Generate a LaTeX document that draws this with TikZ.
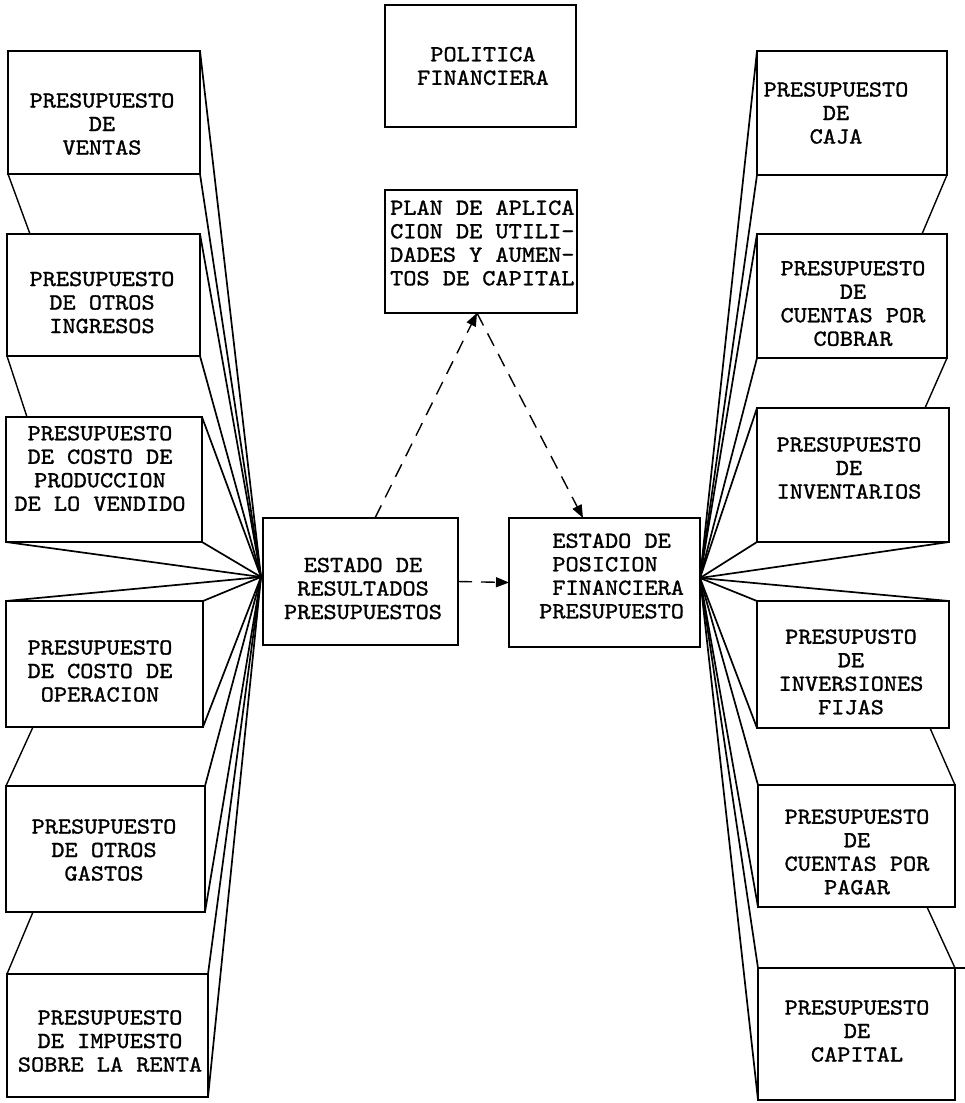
\documentclass[tikz,border=0pt]{standalone}
\usepackage{fontspec}
\newfontfamily\twfont{lmmono10-regular.otf}[FakeStretch=1.09,FakeBold=1.2]
\usetikzlibrary{calc,arrows.meta}
\begin{document}
\begin{tikzpicture}[x=1pt,y=-1pt,
  box/.style={draw, line width=1.4pt, inner sep=0pt, outer sep=0pt},
  txt/.style={font=\twfont\fontsize{23}{23.5}\selectfont, align=center, inner sep=0pt},
  persp/.style={line width=1.7pt},
  link/.style={line width=1.4pt},
  dasharrow/.style={line width=1.4pt, dash pattern=on 14pt off 9pt, -{Triangle[length=13pt,width=10pt]}}]
\useasboundingbox (0,0) rectangle (965,1103);

% ---------- left column ----------
\node[box, minimum width=192pt, minimum height=123pt] (L1) at (104,112.5) {};
\node[txt] (tL1) at (102,124) {PRESUPUESTO\\DE\\VENTAS};
\node[box, minimum width=193pt, minimum height=122pt] (L2) at (103.5,295) {};
\node[txt] (tL2) at (102,302.5) {PRESUPUESTO\\DE OTROS\\INGRESOS};
\node[box, minimum width=196pt, minimum height=125pt] (L3) at (104,479.5) {};
\node[txt] (tL3) at (100,468.5) {PRESUPUESTO\\DE COSTO DE\\PRODUCCION\\DE LO VENDIDO};
\node[box, minimum width=197pt, minimum height=126pt] (L4) at (104.5,664) {};
\node[txt] (tL4) at (100,671) {PRESUPUESTO\\DE COSTO DE\\OPERACION};
\node[box, minimum width=199pt, minimum height=126pt] (L5) at (105.5,849) {};
\node[txt] (tL5) at (104,850) {PRESUPUESTO\\DE OTROS\\GASTOS};
\node[box, minimum width=201pt, minimum height=123pt] (L6) at (107.5,1035.5) {};
\node[txt] (tL6) at (110,1041) {PRESUPUESTO\\DE IMPUESTO\\SOBRE LA RENTA};

% ---------- right column ----------
\node[box, minimum width=190pt, minimum height=124pt] (R1) at (852,113) {};
\node[txt] (tR1) at (836,113) {PRESUPUESTO\\DE\\CAJA};
\node[box, minimum width=190pt, minimum height=124pt] (R2) at (852,296) {};
\node[txt] (tR2) at (853,303.5) {PRESUPUESTO\\DE\\CUENTAS POR\\COBRAR};
\node[box, minimum width=192pt, minimum height=134pt] (R3) at (853,475) {};
\node[txt] (tR3) at (849,468) {PRESUPUESTO\\DE\\INVENTARIOS};
\node[box, minimum width=192pt, minimum height=127pt] (R4) at (853,664.5) {};
\node[txt] (tR4) at (851,672) {PRESUPUSTO\\DE\\INVERSIONES\\FIJAS};
\node[box, minimum width=197pt, minimum height=122pt] (R5) at (856.5,846) {};
\node[txt] (tR5) at (857,852) {PRESUPUESTO\\DE\\CUENTAS POR\\PAGAR};
\node[box, minimum width=197pt, minimum height=132pt] (R6) at (856.5,1034) {};
\node[txt] (tR6) at (857,1031) {PRESUPUESTO\\DE\\CAPITAL};
\draw[link] (R6.north east) -- ++(10,0);

% ---------- centre ----------
\node[box, minimum width=191pt, minimum height=122pt] (PF) at (480.5,66) {};
\node[txt] (tPF) at (483,66) {POLITICA\\FINANCIERA};
\node[box, minimum width=192pt, minimum height=123pt] (PA) at (481,251.5) {};
\node[txt, align=left, anchor=west] (tPA) at (390,243) {PLAN DE APLICA\\CION DE UTILI-\\DADES Y AUMEN-\\TOS DE CAPITAL};
\node[box, minimum width=195pt, minimum height=127pt] (ER) at (360.5,581.5) {};
\node[txt] (tER) at (363,588.5) {ESTADO DE\\RESULTADOS\\PRESUPUESTOS};
\node[box, minimum width=191pt, minimum height=129pt] (EP) at (604.5,582.5) {};
\node[txt, align=left, anchor=west] (tEP) at (539,576) {\hphantom{E}ESTADO DE\\\hphantom{E}POSICION\\\hphantom{E}FINANCIERA\\PRESUPUESTO};

% vanishing points
\coordinate (apexL) at (261,577);
\coordinate (apexR) at (700,578);

% ---------- perspective lines, left ----------
\foreach \c in {L1.north east, L1.south east, L2.north east, L2.south east,
                L3.north east, L3.south east, L3.south west,
                L4.north west, L4.north east, L4.south east,
                L5.north east, L5.south east, L6.north east, L6.south east}
  \draw[persp] (\c) -- (apexL);
\draw[link] (L1.south west) -- ($(L2.north west)+(23,0)$);
\draw[link] (L2.south west) -- ($(L3.north west)+(21,0)$);
\draw[link] ($(L4.south west)+(27,0)$) -- (L5.north west);
\draw[link] ($(L5.south west)+(27,0)$) -- (L6.north west);

% ---------- perspective lines, right ----------
\foreach \c in {R1.north west, R1.south west, R2.north west, R2.south west,
                R3.north west, R3.south west, R3.south east,
                R4.north west, R4.north east, R4.south west,
                R5.north west, R5.south west, R6.north west, R6.south west}
  \draw[persp] (\c) -- (apexR);
\draw[link] (R1.south east) -- ($(R2.north east)+(-25,0)$);
\draw[link] (R2.south east) -- ($(R3.north east)+(-24,0)$);
\draw[link] ($(R4.south east)+(-19,0)$) -- (R5.north east);
\draw[link] ($(R5.south east)+(-28,0)$) -- (R6.north east);

% ---------- dashed arrows ----------
\draw[dasharrow] ($(ER.north west)+(112,0)$) -- ($(PA.south west)+(92,0)$);
\draw[dasharrow] ($(PA.south west)+(92,0)$) -- ($(EP.north west)+(74,0)$);
\draw[dasharrow] (ER.east) -- (EP.west);
\end{tikzpicture}
\end{document}
